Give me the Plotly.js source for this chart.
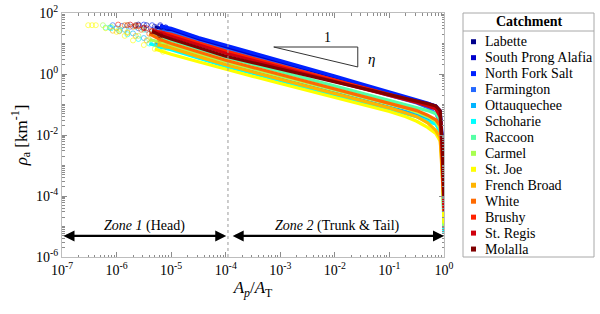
<!DOCTYPE html>
<html>
<head>
<meta charset="utf-8">
<script src="https://cdn.plot.ly/plotly-3.0.1.min.js"></script>
<style>html,body{margin:0;padding:0;background:#fff;}#chart{width:600px;height:314px;}</style>
</head>
<body>
<div id="chart"></div>
<script>
// ---- categories and colours ----
const catchments = ['Labette','South Prong Alafia','North Fork Salt','Farmington','Ottauquechee','Schoharie','Raccoon','Carmel','St. Joe','French Broad','White','Brushy','St. Regis','Molalla'];
const colors = ['#00008c','#0000cc','#0022ff','#2468ff','#00b4ff','#00ffff','#55ffa5','#a8ff50','#ffff00','#ffb400','#ff6a00','#ff2200','#d0000e','#800000'];

// ---- A_p/A_T sample positions of the trunk & tail (shared) ----
const areaRatio = [1e-5, 3.16e-5, 1e-4, 3.16e-4, 1e-3, 3.16e-3, 1e-2, 3.16e-2, 0.1, 0.2, 0.316, 0.5, 0.708, 0.851, 0.923, 0.966, 1.0];

// ---- rho_a [km^-1] along areaRatio, per catchment ----
const rho_Labette      = [25.1, 12.6, 7.08, 3.98, 2.24, 1.26, 0.708, 0.398, 0.224, 0.158, 0.126, 0.100, 0.0794, 0.0501, 0.00631, 5.01e-4, 5.01e-5];
const rho_SouthProng   = [28.2, 14.1, 7.94, 4.42, 2.45, 1.36, 0.759, 0.422, 0.234, 0.166, 0.132, 0.105, 0.0891, 0.0631, 0.0100, 7.94e-4, 6.31e-5];
const rho_NorthFork    = [31.6, 15.8, 8.91, 4.96, 2.75, 1.53, 0.851, 0.473, 0.263, 0.186, 0.148, 0.112, 0.0891, 0.0562, 0.00398, 3.98e-4, 3.16e-5];
const rho_Farmington   = [22.4, 11.2, 6.03, 3.43, 1.95, 1.11, 0.631, 0.359, 0.204, 0.145, 0.112, 0.0794, 0.0501, 0.0251, 0.00251, 2.51e-4, 2.51e-5];
const rho_Ottauquechee = [7.08, 3.72, 2.00, 1.17, 0.692, 0.407, 0.240, 0.141, 0.0832, 0.0603, 0.0479, 0.0355, 0.0251, 0.0126, 0.00158, 1.58e-4, 1.26e-5];
const rho_Schoharie    = [6.31, 3.31, 1.78, 1.04, 0.603, 0.351, 0.204, 0.119, 0.0692, 0.0501, 0.0398, 0.0282, 0.0224, 0.0126, 0.00126, 1.00e-4, 6.31e-6];
const rho_Raccoon      = [12.6, 6.61, 3.55, 2.07, 1.20, 0.700, 0.407, 0.237, 0.138, 0.100, 0.0794, 0.0631, 0.0501, 0.0316, 0.00316, 2.51e-4, 1.58e-5];
const rho_Carmel       = [8.91, 4.68, 2.51, 1.48, 0.871, 0.513, 0.302, 0.178, 0.105, 0.0759, 0.0562, 0.0398, 0.0282, 0.0158, 0.00158, 1.26e-4, 1.00e-5];
const rho_StJoe        = [4.47, 2.51, 1.41, 0.832, 0.490, 0.288, 0.170, 0.100, 0.0589, 0.0398, 0.0282, 0.0178, 0.0112, 0.00631, 0.00100, 1.00e-4, 1.26e-5];
const rho_FrenchBroad  = [7.08, 3.72, 2.00, 1.16, 0.676, 0.394, 0.229, 0.133, 0.0776, 0.0525, 0.0398, 0.0251, 0.0141, 0.00794, 6.31e-4, 1.58e-4, 3.98e-5];
const rho_White        = [10.0, 5.25, 2.82, 1.64, 0.955, 0.556, 0.324, 0.188, 0.110, 0.0794, 0.0631, 0.0447, 0.0316, 0.0200, 0.00200, 2.51e-4, 3.98e-5];
const rho_Brushy       = [20.0, 10.5, 5.62, 3.27, 1.91, 1.11, 0.646, 0.376, 0.219, 0.158, 0.126, 0.100, 0.0794, 0.0501, 0.00501, 3.16e-4, 5.01e-5];
const rho_StRegis      = [17.8, 9.12, 4.79, 2.82, 1.66, 0.977, 0.575, 0.339, 0.200, 0.148, 0.117, 0.0891, 0.0708, 0.0398, 0.00398, 3.16e-4, 3.16e-5];
const rho_Molalla      = [14.1, 7.24, 3.80, 2.34, 1.45, 0.891, 0.550, 0.339, 0.209, 0.158, 0.132, 0.107, 0.0891, 0.0631, 0.00631, 5.01e-4, 1.00e-4];

// ---- head (sparse) points: A_p/A_T and rho_a ----
const headA_Labette      = [2.51e-6, 3.55e-6, 5.01e-6, 7.08e-6];
const headRho_Labette    = [41.7, 39.8, 35.5, 30.2];
const headA_SouthProng   = [6.31e-6, 7.94e-6];
const headRho_SouthProng = [39.8, 33.1];
const headA_NorthFork    = [3.16e-6, 4.47e-6, 6.31e-6, 7.94e-6];
const headRho_NorthFork  = [41.7, 39.8, 36.3, 33.9];
const headA_Farmington   = [8.51e-7, 1.26e-6, 1.78e-6, 2.51e-6, 3.55e-6, 5.01e-6, 7.08e-6];
const headRho_Farmington = [39.8, 38.0, 35.5, 31.6, 28.2, 26.3, 24.0];
const headA_Ottauquechee   = [7.59e-7, 1.00e-6, 1.41e-6, 2.00e-6, 3.16e-6, 5.01e-6, 7.08e-6];
const headRho_Ottauquechee = [33.1, 31.6, 28.2, 21.4, 15.1, 10.7, 8.51];
const headA_Schoharie    = [6.31e-7, 7.94e-7, 1.12e-6, 1.58e-6, 2.51e-6, 3.98e-6, 6.31e-6];
const headRho_Schoharie  = [33.1, 31.6, 26.3, 20.0, 14.1, 10.0, 7.59];
const headA_Raccoon      = [1.58e-6, 2.24e-6, 3.16e-6, 4.47e-6, 6.61e-6];
const headRho_Raccoon    = [39.8, 35.5, 28.2, 21.4, 15.8];
const headA_Carmel       = [5.62e-7, 7.94e-7, 1.12e-6, 1.58e-6, 2.51e-6, 3.98e-6, 6.31e-6];
const headRho_Carmel     = [39.8, 35.5, 30.2, 24.0, 17.8, 13.5, 10.7];
const headA_StJoe        = [3.02e-7, 3.55e-7, 4.17e-7, 6.31e-7, 1.00e-6, 1.41e-6, 2.00e-6, 3.16e-6, 5.01e-6, 7.08e-6];
const headRho_StJoe      = [39.8, 39.8, 39.8, 31.6, 24.0, 17.8, 12.6, 8.91, 6.61, 5.37];
const headA_FrenchBroad  = [8.51e-7, 1.12e-6, 1.58e-6, 2.24e-6, 3.55e-6, 5.62e-6, 7.94e-6];
const headRho_FrenchBroad= [26.3, 25.1, 22.4, 17.8, 12.6, 9.33, 7.94];
const headA_White        = [1.41e-6, 2.00e-6, 2.82e-6, 3.98e-6, 6.31e-6];
const headRho_White      = [39.8, 35.5, 28.2, 20.9, 13.5];
const headA_Brushy       = [1.07e-6, 1.58e-6, 2.24e-6, 3.16e-6, 4.47e-6, 6.31e-6];
const headRho_Brushy     = [41.7, 39.8, 37.2, 31.6, 26.3, 22.9];
const headA_StRegis      = [1.78e-6, 2.51e-6, 3.55e-6, 5.01e-6, 7.08e-6];
const headRho_StRegis    = [41.7, 38.0, 31.6, 25.1, 20.9];
const headA_Molalla      = [2.24e-6, 3.16e-6, 4.47e-6, 6.31e-6];
const headRho_Molalla    = [39.8, 33.1, 25.1, 18.6];

// ---- tick labels ----
const xTickVals = [1e-7, 1e-6, 1e-5, 1e-4, 1e-3, 1e-2, 1e-1, 1];
const xTickText = ['10<sup>-7</sup>','10<sup>-6</sup>','10<sup>-5</sup>','10<sup>-4</sup>','10<sup>-3</sup>','10<sup>-2</sup>','10<sup>-1</sup>','10<sup>0</sup>'];
const yTickVals = [1e-6, 1e-4, 1e-2, 1, 100];
const yTickText = ['10<sup>-6</sup>','10<sup>-4</sup>','10<sup>-2</sup>','10<sup>0</sup>','10<sup>2</sup>'];

// ---- assemble ----
const bodies = [rho_Labette, rho_SouthProng, rho_NorthFork, rho_Farmington, rho_Ottauquechee, rho_Schoharie, rho_Raccoon, rho_Carmel, rho_StJoe, rho_FrenchBroad, rho_White, rho_Brushy, rho_StRegis, rho_Molalla];
const headsA = [headA_Labette, headA_SouthProng, headA_NorthFork, headA_Farmington, headA_Ottauquechee, headA_Schoharie, headA_Raccoon, headA_Carmel, headA_StJoe, headA_FrenchBroad, headA_White, headA_Brushy, headA_StRegis, headA_Molalla];
const headsR = [headRho_Labette, headRho_SouthProng, headRho_NorthFork, headRho_Farmington, headRho_Ottauquechee, headRho_Schoharie, headRho_Raccoon, headRho_Carmel, headRho_StJoe, headRho_FrenchBroad, headRho_White, headRho_Brushy, headRho_StRegis, headRho_Molalla];

const SERIF = 'Liberation Serif';
const traces = [];
catchments.forEach((name, i) => {
  traces.push({
    type: 'scatter', mode: 'markers', name: name, showlegend: false,
    x: headsA[i], y: headsR[i],
    marker: {symbol: 'circle-open', size: 5, color: colors[i], line: {width: 1}, opacity: 0.6}
  });
  traces.push({
    type: 'scatter', mode: 'lines', name: name, showlegend: false,
    x: headsA[i].slice(-2).concat(areaRatio), y: headsR[i].slice(-2).concat(bodies[i]),
    line: {color: colors[i], width: 3.2}
  });
});

// ---- legend drawn in paper coordinates: pixel -> paper helpers ----
const L0 = 62, R0 = 444, T0 = 13, B0 = 257;
const toPX = v => (v - L0) / (R0 - L0);
const toPY = v => (B0 - v) / (B0 - T0);

const shapes = [
  {type:'line', xref:'x', yref:'paper', x0:1.1e-4, x1:1.1e-4, y0:0, y1:1, line:{color:'#9a9a9a', width:1, dash:'dot'}},
  {type:'line', xref:'x', yref:'y', x0:7.59e-4, x1:0.0263, y0:7.67, y1:7.67, line:{color:'#333333', width:1}},
  {type:'line', xref:'x', yref:'y', x0:0.0263, x1:0.0263, y0:7.67, y1:1.70, line:{color:'#333333', width:1}},
  {type:'line', xref:'x', yref:'y', x0:7.59e-4, x1:0.0263, y0:7.67, y1:1.70, line:{color:'#333333', width:1}},
  {type:'rect', xref:'paper', yref:'paper', x0:toPX(463), x1:toPX(594), y0:toPY(257), y1:toPY(13), line:{color:'#a8a8a8', width:1}},
  {type:'line', xref:'paper', yref:'paper', x0:toPX(463), x1:toPX(594), y0:toPY(31), y1:toPY(31), line:{color:'#a8a8a8', width:1}}
];

const annotations = [
  {xref:'x', yref:'y', x:-3.99, y:-5.31, ax:-7, ay:-5.31, axref:'x', ayref:'y', text:'', showarrow:true,
   arrowside:'end+start', arrowhead:2, startarrowhead:2, arrowsize:1, startarrowsize:1, arrowwidth:2.2, arrowcolor:'#000'},
  {xref:'x', yref:'y', x:0, y:-5.31, ax:-3.9, ay:-5.31, axref:'x', ayref:'y', text:'', showarrow:true,
   arrowside:'end+start', arrowhead:2, startarrowhead:2, arrowsize:1, startarrowsize:1, arrowwidth:2.2, arrowcolor:'#000'},
  {xref:'x', yref:'y', x:-5.48, y:-4.98, xanchor:'center', yanchor:'middle', text:'<i>Zone 1</i> (Head)', showarrow:false, font:{size:14}},
  {xref:'x', yref:'y', x:-1.96, y:-4.98, xanchor:'center', yanchor:'middle', text:'<i>Zone 2</i> (Trunk &amp; Tail)', showarrow:false, font:{size:14}},
  {xref:'x', yref:'y', x:-2.144, y:1.213, xanchor:'center', yanchor:'middle', text:'1', showarrow:false, font:{size:14}},
  {xref:'x', yref:'y', x:-1.32, y:0.49, xanchor:'center', yanchor:'middle', text:'<i>η</i>', showarrow:false, font:{size:15}},
  {xref:'paper', yref:'paper', x:toPX(528.5), y:toPY(21.5), xanchor:'center', yanchor:'middle', text:'<b>Catchment</b>', showarrow:false, font:{size:14}}
];
catchments.forEach((name, i) => {
  const yc = 41.7 + 15.95 * i;
  shapes.push({type:'rect', xref:'paper', yref:'paper', x0:toPX(471), x1:toPX(476), y0:toPY(yc + 2.5), y1:toPY(yc - 2.5),
               fillcolor: colors[i], line:{width:0}});
  annotations.push({xref:'paper', yref:'paper', x:toPX(483), y:toPY(yc), xanchor:'left', yanchor:'middle',
                    text:name, showarrow:false, font:{size:14}});
});

function axisBase() {
  return {
    type:'log', tickmode:'array', ticks:'inside', ticklen:5, tickcolor:'#8c8c8c', tickwidth:1,
    showline:true, mirror:'ticks', linecolor:'#bdbdbd', linewidth:1, showgrid:false, zeroline:false,
    tickfont:{size:14},
    minor:{ticks:'inside', ticklen:2.5, tickcolor:'#8c8c8c', dtick:'D1', showgrid:false}
  };
}

const xaxis = axisBase();
xaxis.range = [-7, 0];
xaxis.tickvals = xTickVals;
xaxis.ticktext = xTickText;
xaxis.title = {text:'<i>A</i><sub><i>p</i></sub>/<i>A</i><sub>T</sub>', font:{size:17}, standoff:4};

const yaxis = axisBase();
yaxis.range = [-6, 2];
yaxis.tickvals = yTickVals;
yaxis.ticktext = yTickText;
yaxis.title = {text:'<i>ρ</i><sub>a</sub> [km<sup>-1</sup>]', font:{size:17}, standoff:4};

const layout = {
  width:600, height:314,
  margin:{l:L0, r:600 - R0, t:T0, b:314 - B0},
  showlegend:false,
  font:{family:SERIF, size:14, color:'#000'},
  xaxis: xaxis, yaxis: yaxis,
  shapes: shapes,
  annotations: annotations
};

Plotly.newPlot('chart', traces, layout, {staticPlot:true});
</script>
</body>
</html>
